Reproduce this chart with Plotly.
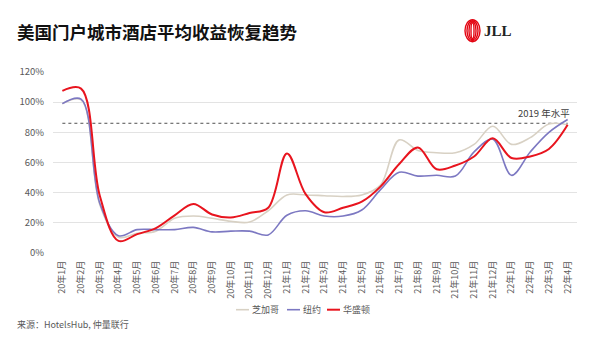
import plotly.graph_objects as go

# Monthly categories, Jan 2020 – Apr 2022
months = [f"20年{m}月" for m in range(1, 13)] + \
         [f"21年{m}月" for m in range(1, 13)] + \
         [f"22年{m}月" for m in range(1, 5)]

# RevPAR recovery relative to 2019 (%)
chicago = [99, 101.5, 32, 10.5, 13, 14.5, 23, 24.5, 23, 21, 20.5, 28,
           38.5, 38.5, 38, 37.5, 38.5, 45, 75, 68, 66.5, 66.5, 72, 84,
           72, 76.5, 85.5, 85]
new_york = [99, 102, 33, 11.5, 15.5, 15.5, 15.5, 17, 14, 14.5, 14.5, 12,
            25, 28, 24.5, 24.5, 28.5, 42, 53.5, 51, 51.5, 51, 67, 75.5,
            51.5, 67, 80, 88.5]
washington = [107.5, 109, 38, 8, 12.5, 16.5, 25, 32.5, 25.5, 23.5, 26.5, 30,
              66, 39, 27, 30, 34, 44, 59, 70, 55.5, 58, 64, 76,
              63, 64, 69, 85]
level_2019 = 86

y_ticks = list(range(0, 121, 20))
y_tick_labels = [f"{v}%" for v in y_ticks]

series = [
    ("芝加哥", chicago, "#D8D1C4", 1.6),
    ("纽约", new_york, "#7C78C2", 1.6),
    ("华盛顿", washington, "#E8141E", 2.0),
]

FONT = "Noto Sans CJK SC"
GREY = "#595959"

fig = go.Figure()

# 2019 reference level
fig.add_trace(go.Scatter(
    x=months, y=[level_2019] * len(months), mode="lines",
    line=dict(color="#505050", width=1, dash="dot"),
    showlegend=False, hoverinfo="skip"))

for name, vals, color, width in series:
    fig.add_trace(go.Scatter(
        x=months, y=vals, name=name, mode="lines",
        line=dict(color=color, width=width, shape="spline", smoothing=1.0),
        showlegend=False))

fig.update_layout(
    width=600, height=337,
    margin=dict(l=53, r=23, t=72, b=84),
    paper_bgcolor="white", plot_bgcolor="white",
    font=dict(family=FONT, size=9, color=GREY),
    xaxis=dict(type="category", range=[-0.5, len(months) - 0.5],
               tickangle=-90, tickfont=dict(size=9, color=GREY),
               showgrid=False, zeroline=False, showline=False,
               ticks="", ticklabelstandoff=5),
    yaxis=dict(range=[0, 120], tickmode="array", tickvals=y_ticks,
               ticktext=y_tick_labels, tickfont=dict(size=9.5, color=GREY),
               showgrid=True, gridcolor="#E3E3E3", gridwidth=1,
               zeroline=False, showline=False, ticks="",
               ticklabelstandoff=8),
)

# Title
fig.add_annotation(text="<b>美国门户城市酒店平均收益恢复趋势</b>",
                   xref="paper", yref="paper", x=(15 - 53) / 524,
                   y=(253.3 - 32) / 181, xanchor="left", yanchor="middle",
                   showarrow=False,
                   font=dict(family=FONT, size=17.5, color="#111111"))

# Logo: red ribbons + wordmark
for i, (w, h) in enumerate([(15, 22), (11, 20), (7, 18), (3, 16)]):
    cx, cy = 472.5, 31
    fig.add_shape(type="circle", xref="paper", yref="paper",
                  x0=(cx - w / 2 - 53) / 524, x1=(cx + w / 2 - 53) / 524,
                  y0=(253.3 - (cy + h / 2)) / 181, y1=(253.3 - (cy - h / 2)) / 181,
                  line=dict(color="#E30613", width=1.4))
fig.add_annotation(text="<b>JLL</b>", xref="paper", yref="paper",
                   x=(482 - 53) / 524, y=(253.3 - 31) / 181,
                   xanchor="left", yanchor="middle", showarrow=False,
                   font=dict(family="Liberation Serif", size=15, color="#222222"))

# Label for the 2019 level
fig.add_annotation(text="2019 年水平", xref="paper", yref="paper",
                   x=(572 - 53) / 524, y=(253.3 - 113.5) / 181,
                   xanchor="right", yanchor="middle", showarrow=False,
                   font=dict(family=FONT, size=9.5, color="#404040"))

# Legend
legend_y = (253.3 - 310) / 181
legend_items = [(236, "芝加哥", "#D8D1C4", 1.6), (287, "纽约", "#7C78C2", 1.6),
                (327, "华盛顿", "#E8141E", 2.0)]
for x0, label, color, width in legend_items:
    fig.add_shape(type="line", xref="paper", yref="paper",
                  x0=(x0 - 53) / 524, x1=(x0 + 13 - 53) / 524,
                  y0=legend_y, y1=legend_y,
                  line=dict(color=color, width=width))
    fig.add_annotation(text=label, xref="paper", yref="paper",
                       x=(x0 + 14 - 53) / 524, y=legend_y,
                       xanchor="left", yanchor="middle", showarrow=False,
                       font=dict(family=FONT, size=9, color=GREY))

# Source note
fig.add_annotation(text="来源：HotelsHub, 仲量联行", xref="paper", yref="paper",
                   x=(15 - 53) / 524, y=(253.3 - 325) / 181,
                   xanchor="left", yanchor="middle", showarrow=False,
                   font=dict(family=FONT, size=9, color=GREY))

fig.write_html("out.html")
